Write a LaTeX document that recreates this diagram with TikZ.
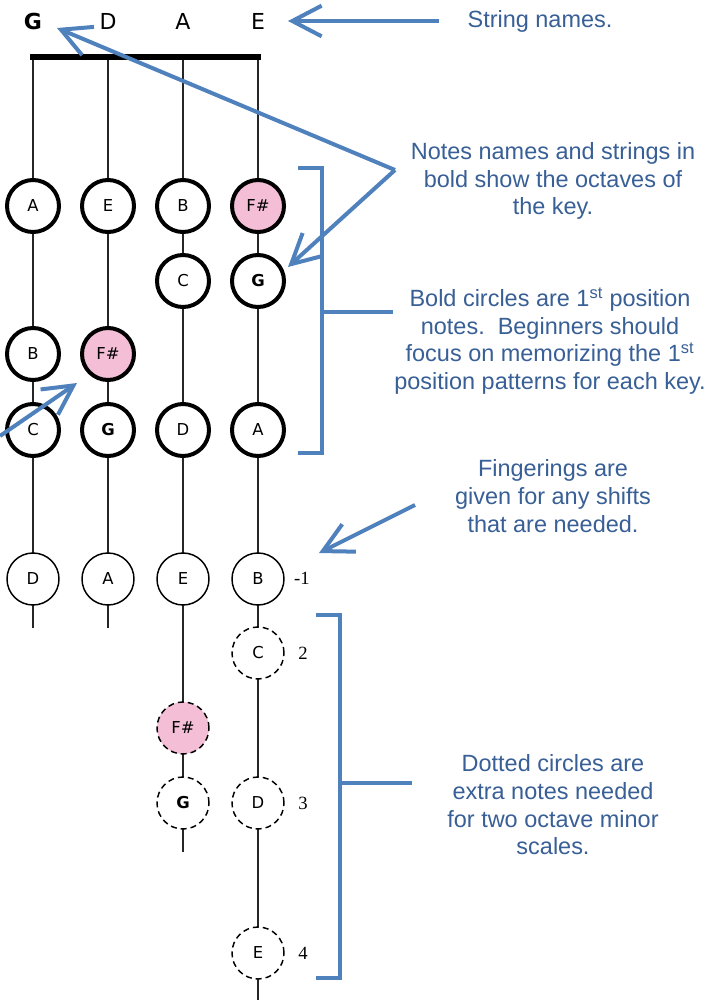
\documentclass[tikz,border=0pt]{standalone}
\usepackage{fontspec}
\setmainfont{Liberation Sans}
\newfontfamily\notefont{DejaVu Sans}
\newfontfamily\numfont{Liberation Serif}
\usetikzlibrary{arrows.meta}
\definecolor{annblue}{RGB}{79,129,189}
\definecolor{txtblue}{RGB}{56,95,150}
\definecolor{notepink}{RGB}{244,190,214}
\tikzset{
  stringline/.style={line width=1.6pt, black!85},
  nut/.style={line width=4.5pt, black},
  note/.style={circle, minimum size=39pt, inner sep=0pt, fill=white, draw=black,
     font=\notefont\fontsize{12.3pt}{14pt}\selectfont},
  boldnote/.style={note, line width=3pt},
  thinnote/.style={note, line width=1.1pt},
  dashnote/.style={note, line width=1.1pt, dash pattern=on 4.5pt off 3pt},
  pink/.style={fill=notepink},
  strname/.style={font=\notefont\fontsize{16.5pt}{18pt}\selectfont},
  finger/.style={font=\numfont\fontsize{14pt}{16pt}\selectfont},
  ann/.style={align=center, text=txtblue, font=\fontsize{17.6pt}{20.8pt}\selectfont},
  bracket/.style={line width=3pt, annblue, line join=miter},
  annarrow/.style={line width=3pt, annblue, -{Straight Barb[length=22pt,width=23pt]}},
}
\begin{document}
\begin{tikzpicture}[x=0.75pt,y=-0.75pt]
\useasboundingbox[fill=white] (0,0) rectangle (723,1000);
% string top and end points
\coordinate (t1) at (33,57);  \coordinate (e1) at (33,628);
\coordinate (t2) at (108,57); \coordinate (e2) at (108,628);
\coordinate (t3) at (183,57); \coordinate (e3) at (183,852);
\coordinate (t4) at (258,57); \coordinate (e4) at (258,1000);
\coordinate (n1) at (30,57);  \coordinate (n2) at (261,57);
\draw[stringline] (t1) -- (e1);
\draw[stringline] (t2) -- (e2);
\draw[stringline] (t3) -- (e3);
\draw[stringline] (t4) -- (e4);
\draw[nut] (n1) -- (n2);
% string names
\node[strname] (sG) at (33,21) {\bfseries G};
\node[strname] (sD) at (108,21) {D};
\node[strname] (sA) at (183,21) {A};
\node[strname] (sE) at (258,21) {E};
% row 1
\node[boldnote] (r1a) at (33,206) {A};
\node[boldnote] (r1b) at (108,206) {E};
\node[boldnote] (r1c) at (183,206) {B};
\node[boldnote,pink] (r1d) at (258,206) {F\#};
% row 2
\node[boldnote] (r2c) at (183,281) {C};
\node[boldnote] (r2d) at (258,281) {\bfseries G};
% row 3
\node[boldnote] (r3a) at (33,354) {B};
\node[boldnote,pink] (r3b) at (108,354) {F\#};
% row 4
\node[boldnote] (r4a) at (33,430) {C};
\node[boldnote] (r4b) at (108,430) {\bfseries G};
\node[boldnote] (r4c) at (183,430) {D};
\node[boldnote] (r4d) at (258,430) {A};
% row 5
\node[thinnote] (r5a) at (33,579) {D};
\node[thinnote] (r5b) at (108,579) {A};
\node[thinnote] (r5c) at (183,579) {E};
\node[thinnote] (r5d) at (258,579) {B};
% dashed extra notes
\node[dashnote] (x1) at (258,653) {C};
\node[dashnote,pink] (x2) at (183,728) {F\#};
\node[dashnote] (x3) at (183,803) {\bfseries G};
\node[dashnote] (x4) at (258,803) {D};
\node[dashnote] (x5) at (258,953) {E};
% fingerings
\node[finger] (f1) at (302,578) {-1};
\node[finger] (f2) at (303,653) {2};
\node[finger] (f3) at (303,803) {3};
\node[finger] (f4) at (303,953) {4};
% annotation texts
\node[ann] (tStr) at (540,21) {String names.};
\node[ann] (tOct) at (553,181) {Notes names and strings in\\bold show the octaves of\\the key.};
\node[ann] (tBold) at (550,341) {Bold circles are 1\textsuperscript{st} position\\notes.\ \ Beginners should\\focus on memorizing the 1\textsuperscript{st}\\position patterns for each key.};
\node[ann] (tFing) at (553,496) {Fingerings are\\given for any shifts\\that are needed.};
\node[ann] (tDot) at (553,805) {Dotted circles are\\extra notes needed\\for two octave minor\\scales.};
% brackets
\coordinate (b1a) at (298,168); \coordinate (b1b) at (322,168);
\coordinate (b1c) at (322,453); \coordinate (b1d) at (298,453);
\coordinate (b1m) at (322,312); \coordinate (b1e) at (393,312);
\draw[bracket] (b1a) -- (b1b) -- (b1c) -- (b1d);
\draw[bracket] (b1m) -- (b1e);
\coordinate (b2a) at (316,615); \coordinate (b2b) at (340,615);
\coordinate (b2c) at (340,978); \coordinate (b2d) at (316,978);
\coordinate (b2m) at (340,783); \coordinate (b2e) at (412,783);
\draw[bracket] (b2a) -- (b2b) -- (b2c) -- (b2d);
\draw[bracket] (b2m) -- (b2e);
% arrows
\coordinate (aS) at (439,21); \coordinate (aSt) at (288,21);
\draw[annarrow] (aS) -- (aSt);
\coordinate (v) at (395,170);
\coordinate (gt) at (57,28);
\coordinate (ct) at (288,267);
\draw[annarrow] (v) -- (gt);
\draw[annarrow] (v) -- (ct);
\coordinate (lf) at (0,436); \coordinate (lft) at (77,383);
\draw[annarrow] (lf) -- (lft);
\coordinate (fs) at (415,505); \coordinate (fst) at (319,553);
\draw[annarrow] (fs) -- (fst);
\end{tikzpicture}
\end{document}
